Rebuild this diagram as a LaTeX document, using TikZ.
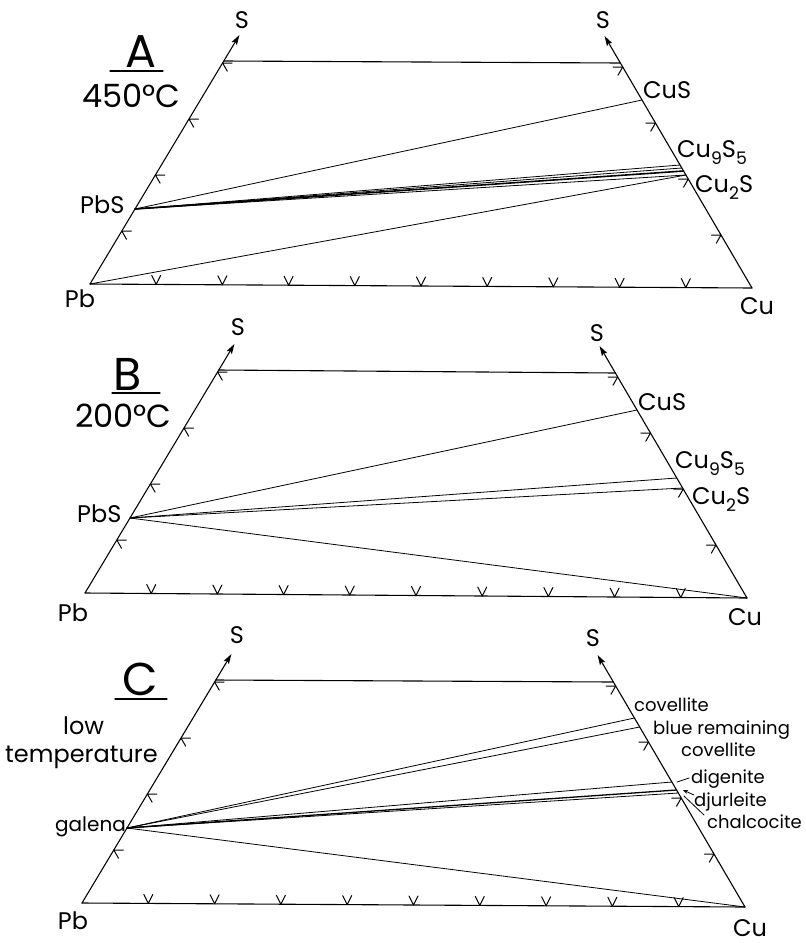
\documentclass[tikz,border=0pt]{standalone}
\usepackage{fontspec}
\usepackage{graphicx}
\setmainfont{Poppins}
\usetikzlibrary{arrows.meta,calc}

\newcommand{\sub}[1]{\raisebox{-0.32em}{\scalebox{0.72}{#1}}}

\tikzset{
  side/.style={line width=1.1pt},
  tie/.style={line width=0.8pt},
  lab/.style={inner sep=0pt, font=\fontsize{24}{24}\selectfont},
  small/.style={inner sep=0pt, font=\fontsize{18}{18}\selectfont},
  gal/.style={inner sep=0pt, font=\fontsize{20}{20}\selectfont},
  temp/.style={inner sep=0pt, font=\fontsize{32}{32}\selectfont},
  big/.style={inner sep=0pt, font=\fontsize{46}{46}\selectfont},
  tickB/.pic={\draw[line width=1pt] (-4.5,-9) -- (0,0) -- (4.5,-9);},
  tickL/.pic={\draw[line width=1pt] (9.5,0) -- (0,0) -- (4.7,8.2);},
  tickR/.pic={\draw[line width=1pt] (-9.5,0) -- (0,0) -- (-4.7,8.2);},
}

% #1 prefix, #2 #3 Pb corner, #4 #5 Cu corner (image pixels)
\newcommand{\frameAt}[5]{%
  \coordinate (#1Pb) at (#2,#3);
  \coordinate (#1Cu) at (#4,#5);
  \coordinate (#1Ltop) at ($(#1Pb)+(0.6*223,-223)$);
  \coordinate (#1Rtop) at ($(#1Cu)+(-0.585*225,-225)$);
  \coordinate (#1Ltip) at ($(#1Pb)+(0.6*249,-249)$);
  \coordinate (#1Rtip) at ($(#1Cu)+(-0.585*252,-252)$);
  \draw[side,-{Stealth[length=10pt,width=6pt,inset=2pt]}] (#1Pb) -- (#1Ltip);
  \draw[side,-{Stealth[length=10pt,width=6pt,inset=2pt]}] (#1Cu) -- (#1Rtip);
  \draw[side] (#1Pb) -- (#1Cu);
  \draw[side] (#1Ltop) -- (#1Rtop);
  \foreach \h in {53,109,165,221}{
    \path ($(#1Pb)+(0.6*\h,-\h)$) pic{tickL};
    \path ($(#1Cu)+(-0.585*\h,-\h)$) pic{tickR};
  }
  \foreach \k in {1,...,9}{
    \path ($(#1Pb)!\k/10!(#1Cu)$) pic{tickB};
  }
}

\begin{document}
\begin{tikzpicture}[x=1pt,y=-1pt,line cap=round,line join=round]
\useasboundingbox (0,0) rectangle (806,943);
\fill[white] (0,0) rectangle (806,943);

\frameAt{A}{90}{284}{752}{288}
\frameAt{B}{85}{593}{747}{598}
\frameAt{C}{82}{903}{745}{907}

% ---------------- Panel A ----------------
\coordinate (APbS) at ($(APb)+(0.6*75,-75)$);
\coordinate (ACuS) at ($(ACu)+(-0.585*188,-188)$);
\coordinate (ACu9) at ($(ACu)+(-0.585*123,-123)$);
\coordinate (Ab1) at ($(ACu)+(-0.585*120,-120)$);
\coordinate (Ab2) at ($(ACu)+(-0.585*117,-117)$);
\coordinate (ACu2) at ($(ACu)+(-0.585*113,-113)$);
\draw[tie] (APbS) -- (ACuS);
\draw[tie] (APbS) -- (ACu9);
\draw[tie] (APbS) -- (Ab1);
\draw[tie,line width=1.6pt] (APbS) -- (Ab2);
\draw[tie] (APbS) -- (ACu2);
\draw[tie] (APb) -- (ACu2);

\node[lab] (ASl) at (242,20) {S};
\node[lab] (ASr) at (603,20) {S};
\node[big,anchor=base west] (Alet) at (125,67) {A};
\draw[side] (110,71) -- (163,71);
\node[temp,anchor=base west] (Atemp) at (82,107) {450°C};
\node[lab,anchor=base west] (APbSl) at (80,213) {PbS};
\node[lab] (APbl) at (80,299) {Pb};
\node[lab] (ACul) at (757,306) {Cu};
\node[lab,anchor=base west] (ACuSl) at (643,98) {CuS};
\node[lab,anchor=base west] (ACu9l) at (677,157) {Cu\sub{9}S\sub{5}};
\node[lab,anchor=base west] (ACu2l) at (695,192) {Cu\sub{2}S};

% ---------------- Panel B ----------------
\coordinate (BPbS) at ($(BPb)+(0.6*75,-75)$);
\coordinate (BCuS) at ($(BCu)+(-0.585*188,-188)$);
\coordinate (BCu9) at ($(BCu)+(-0.585*120,-120)$);
\coordinate (BCu2) at ($(BCu)+(-0.585*110,-110)$);
\draw[tie] (BPbS) -- (BCuS);
\draw[tie] (BPbS) -- (BCu9);
\draw[tie] (BPbS) -- (BCu2);
\draw[tie] (BPbS) -- (BCu);

\node[lab] (BSl) at (238,327) {S};
\node[lab] (BSr) at (597,333) {S};
\node[big,anchor=base west] (Blet) at (113,390) {B};
\draw[side] (112,393) -- (160,393);
\node[temp,anchor=base west] (Btemp) at (75,427) {200°C};
\node[lab,anchor=base west] (BPbSl) at (77,522) {PbS};
\node[lab] (BPbl) at (73,613) {Pb};
\node[lab] (BCul) at (745,617) {Cu};
\node[lab,anchor=base west] (BCuSl) at (638,410) {CuS};
\node[lab,anchor=base west] (BCu9l) at (675,468) {Cu\sub{9}S\sub{5}};
\node[lab,anchor=base west] (BCu2l) at (692,504) {Cu\sub{2}S};

% ---------------- Panel C ----------------
\coordinate (Cgal) at ($(CPb)+(0.6*75,-75)$);
\coordinate (Ccov) at ($(CCu)+(-0.585*189,-189)$);
\coordinate (Cblue) at ($(CCu)+(-0.585*180,-180)$);
\coordinate (Cdig) at ($(CCu)+(-0.585*125,-125)$);
\coordinate (Cdju) at ($(CCu)+(-0.585*117,-117)$);
\coordinate (Ccha) at ($(CCu)+(-0.585*114,-114)$);
\draw[tie] (Cgal) -- (Ccov);
\draw[tie] (Cgal) -- (Cblue);
\draw[tie] (Cgal) -- (Cdig);
\draw[tie,line width=1.3pt] (Cgal) -- (Cdju);
\draw[tie] (Cgal) -- (Ccha);
\draw[tie] (Cgal) -- (CCu);

\node[lab] (CSl) at (237,635) {S};
\node[lab] (CSr) at (593,638) {S};
\node[big,anchor=base west] (Clet) at (122,695) {C};
\draw[side] (115,699) -- (167,699);
\node[lab,anchor=base west] (Clow) at (63,734) {low};
\node[lab,anchor=base west] (Ctemp) at (5,762) {temperature};
\node[gal,anchor=base west] (Cgall) at (55,831) {galena};
\node[lab] (CPbl) at (73,921) {Pb};
\node[lab] (CCul) at (750,928) {Cu};
\node[small,anchor=base west] (Ccovl) at (634,711) {covellite};
\node[small,anchor=base west] (Cbluel) at (653,734) {blue remaining};
\node[small,anchor=base west] (Cblue2) at (681,756) {covellite};
\node[small,anchor=base west] (Cdigl) at (691,783) {digenite};
\node[small,anchor=base west] (Cdjul) at (694,806) {djurleite};
\node[small,anchor=base west] (Cchal) at (707,828) {chalcocite};

\coordinate (CdigT) at (689,778);
\coordinate (CdigH) at (677,782);
\draw[tie] (CdigT) -- (CdigH);
\coordinate (CdjuT) at (694,795);
\coordinate (CdjuH) at (683,790);
\draw[tie,-{Stealth[length=5pt,width=4pt]}] (CdjuT) -- (CdjuH);
\coordinate (CchaT) at (704,815);
\coordinate (CchaH) at (684,796);
\draw[tie] (CchaT) -- (CchaH);
\end{tikzpicture}
\end{document}
